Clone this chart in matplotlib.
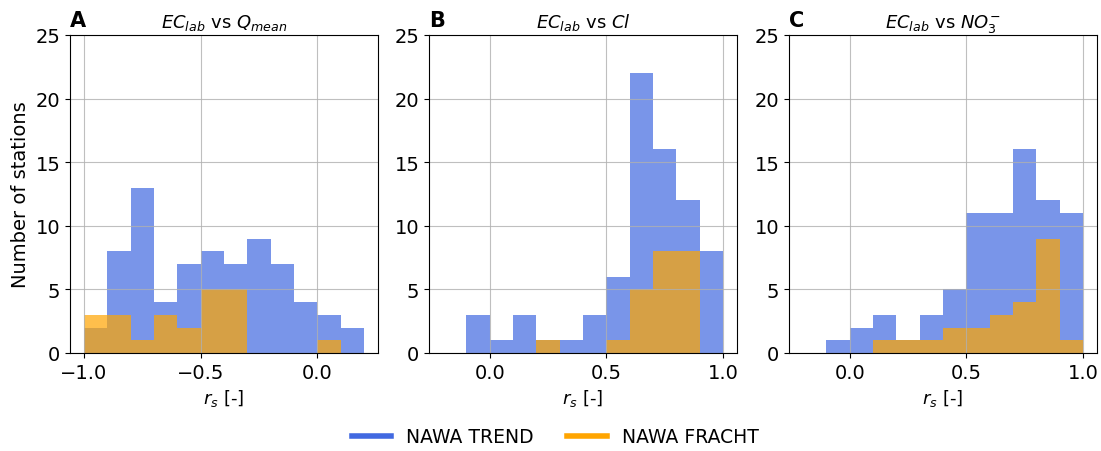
import numpy as np
import matplotlib
matplotlib.use("Agg")
import matplotlib.pyplot as plt
from matplotlib.lines import Line2D

# bin left edges (width 0.1)
bins_A = [-1.0, -0.9, -0.8, -0.7, -0.6, -0.5, -0.4, -0.3, -0.2, -0.1, 0.0, 0.1, 0.2]
trend_A = [2, 8, 13, 4, 7, 8, 7, 9, 7, 4, 3, 2]
fracht_A = [3, 3, 1, 3, 2, 5, 5, 0, 0, 0, 1, 0]

bins_BC = [-0.1, 0.0, 0.1, 0.2, 0.3, 0.4, 0.5, 0.6, 0.7, 0.8, 0.9, 1.0]
trend_B = [3, 1, 3, 1, 1, 3, 6, 22, 16, 12, 8]
fracht_B = [0, 0, 0, 1, 0, 0, 1, 5, 8, 8, 0]
trend_C = [1, 2, 3, 1, 3, 5, 11, 11, 16, 12, 11]
fracht_C = [0, 0, 1, 1, 1, 2, 2, 3, 4, 9, 1]

titles = [r"$EC_{lab}$ vs $Q_{mean}$", r"$EC_{lab}$ vs $Cl$", r"$EC_{lab}$ vs $NO_3^{-}$"]
letters = ["A", "B", "C"]
labels = ["NAWA TREND", "NAWA FRACHT"]
colors = ["royalblue", "orange"]

plt.rcParams['font.size'] = 14
fig = plt.figure(figsize=(11.01, 4.52), dpi=100)
W, H = 1101, 452
lefts = [70, 429, 789]
aw = 308
top, bottom = 36, 354
axes = [fig.add_axes([l / W, 1 - bottom / H, aw / W, (bottom - top) / H]) for l in lefts]

data = [(bins_A, trend_A, fracht_A), (bins_BC, trend_B, fracht_B), (bins_BC, trend_C, fracht_C)]
xlims = [(-1.06, 0.26), (-0.26, 1.06), (-0.26, 1.06)]
xticks = [[-1.0, -0.5, 0.0], [0.0, 0.5, 1.0], [0.0, 0.5, 1.0]]

for i, ax in enumerate(axes):
    b, t, f = data[i]
    edges = np.array(b)
    centers = edges[:-1] + 0.05
    ax.hist(centers, bins=edges, weights=t, color=colors[0], alpha=0.7)
    ax.hist(centers, bins=edges, weights=f, color=colors[1], alpha=0.7)
    ax.set_xlim(*xlims[i])
    ax.set_ylim(0, 25)
    ax.set_yticks([0, 5, 10, 15, 20, 25])
    ax.set_xticks(xticks[i])
    ax.tick_params(labelsize=14)
    ax.grid(True, color="#b0b0b0", linewidth=0.8, alpha=0.8)
    ax.set_title(titles[i], fontsize=13)
    ax.text(0.0, 1.015, letters[i], transform=ax.transAxes, fontsize=15,
            fontweight="bold", va="bottom", ha="left")
    ax.set_xlabel(r"$r_s$ [-]", fontsize=13)
axes[0].set_ylabel("Number of stations", fontsize=14)

handles = [Line2D([0], [0], color=c, lw=4) for c in colors]
fig.legend(handles, labels, loc="center", bbox_to_anchor=(555 / W, 1 - 438 / H),
           ncol=2, frameon=False, fontsize=13.5, columnspacing=1.8, handlelength=2.1)

fig.savefig("out.png", dpi=100)
